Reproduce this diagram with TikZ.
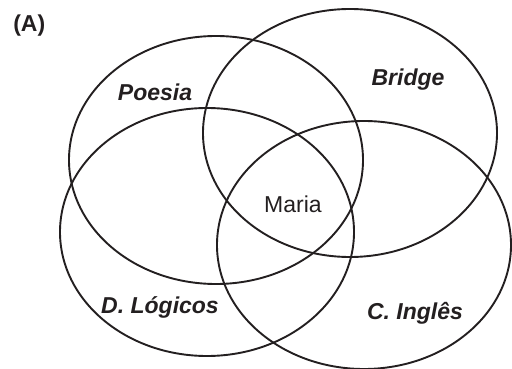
\documentclass[tikz,border=0pt]{standalone}
\usepackage{fontspec}
\setmainfont{Liberation Sans}
\definecolor{tinta}{RGB}{35,31,32}
\begin{document}
\begin{tikzpicture}[x=1pt, y=-1pt, line width=1.9pt, line join=round, line cap=round, color=tinta,
		conj/.style={font=\fontsize{23}{28}\selectfont\bfseries\itshape, anchor=base},
		nome/.style={font=\fontsize{23}{28}\selectfont, anchor=base}]
		\def\rx{147pt} \def\ry{124pt} % semi-eixos
		\useasboundingbox (0,0) rectangle (512,369);
		\draw (216,160) ellipse [x radius=\rx, y radius=\ry];
		\draw (350,133) ellipse [x radius=\rx, y radius=\ry];
		\draw (207,232) ellipse [x radius=\rx, y radius=\ry];
		\draw (364,245) ellipse [x radius=\rx, y radius=\ry];
		\node (letra) [font=\fontsize{23}{28}\selectfont\bfseries, anchor=base west] at (9,32) {(A)};
		\node (poesia) [conj] at (155,100) {Poesia};
		\node (bridge) [conj] at (408,86) {Bridge};
		\node (logicos) [conj] at (160,313) {D. Lógicos};
		\node (ingles) [conj] at (415,319) {C. Inglês};
		\node (maria) [nome] at (293,212) {Maria};
	\end{tikzpicture}
\end{document}
